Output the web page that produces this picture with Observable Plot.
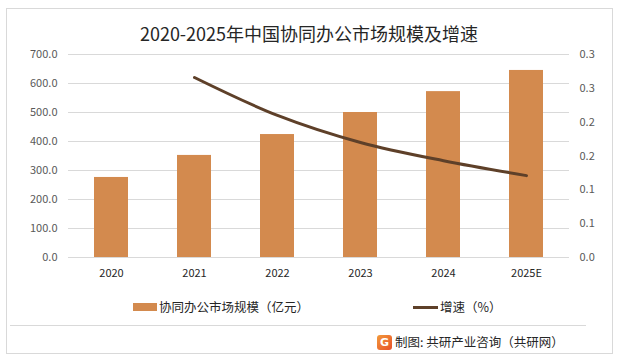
<!DOCTYPE html>
<html><head><meta charset="utf-8">
<script src="https://cdn.jsdelivr.net/npm/d3@7"></script>
<script src="https://cdn.jsdelivr.net/npm/@observablehq/plot@0.6"></script>
<style>
body{margin:0;background:#fff;font-family:"Noto Sans CJK SC","Noto Sans",sans-serif;}
#wrap{position:relative;width:618px;height:360px;overflow:hidden;background:#fff;}
#frame{position:absolute;left:6px;top:8px;width:607px;height:346px;border:1px solid #d9d9d9;box-sizing:border-box;}
#title{position:absolute;left:0;width:618px;top:20px;height:26px;line-height:26px;text-align:center;font-size:18px;color:#262626;}
#chart{position:absolute;left:0;top:40px;}
.lg{position:absolute;font-size:12.5px;color:#262626;line-height:16px;top:299px;white-space:nowrap;}
.sw{position:absolute;}
#rule{position:absolute;left:10px;width:576px;top:325px;height:1px;background:#d9d9d9;}
#src{position:absolute;left:395px;top:334px;font-size:12.5px;line-height:16px;color:#262626;white-space:nowrap;}
#logo{position:absolute;left:377px;top:335px;width:15px;height:15px;border-radius:3px;background:linear-gradient(135deg,#f29a3a,#e8502a);color:#fff;font:bold 11px/15px "DejaVu Sans",sans-serif;text-align:center;}
</style></head>
<body><div id="wrap">
<div id="frame"></div>
<div id="title">2020-2025年中国协同办公市场规模及增速</div>
<div id="chart"></div>
<div class="sw" style="left:133px;top:303px;width:24px;height:8px;background:#D38A4E"></div>
<div class="lg" style="left:159px">协同办公市场规模（亿元）</div>
<div class="sw" style="left:413px;top:306px;width:25px;height:3px;background:#5E4029"></div>
<div class="lg" style="left:440px">增速（%）</div>
<div id="rule"></div>
<div id="logo">G</div>
<div id="src">制图: 共研产业咨询（共研网）</div>
</div>
<script>
const years = ["2020","2021","2022","2023","2024","2025E"];
const marketSize = [276, 352, 424, 500, 572, 645];
const growthYears = ["2021","2022","2023","2024","2025E"];
const growth = [0.266, 0.21, 0.17, 0.143, 0.121];
const leftTicks = [0,100,200,300,400,500,600,700];
const rightTicks = [0,0.05,0.1,0.15,0.2,0.25,0.3];
const rightTickLabels = ["0.0","0.1","0.1","0.2","0.2","0.3","0.3"];

const K = 700/0.3;
const rightPos = rightTicks.map(t => t*K);
const bars = years.map((y,i)=>({year:y, v:marketSize[i]}));
const line = growthYears.map((y,i)=>({year:y, g:growth[i]}));

const chart = Plot.plot({
  width:618, height:250, marginTop:14, marginBottom:33, marginLeft:68, marginRight:49,
  x:{domain:years, paddingInner:0.59, paddingOuter:0.295},
  y:{domain:[0,700]},
  style:{fontFamily:'"Noto Sans CJK SC","Noto Sans",sans-serif', fontSize:"11px", background:"transparent", overflow:"visible"},
  marks:[
    Plot.ruleY(leftTicks,{stroke:"#d9d9d9", strokeWidth:1}),
    Plot.barY(bars,{x:"year", y:"v", fill:"#D38A4E"}),
    Plot.line(line,{x:"year", y:d=>d.g*K, stroke:"#5E4029", strokeWidth:3, curve:"catmull-rom"}),
    Plot.axisY(leftTicks,{anchor:"left", tickSize:0, tickPadding:11, tickFormat:d=>d.toFixed(1), color:"#595959", label:null}),
    Plot.axisY(rightPos,{anchor:"right", tickSize:0, tickPadding:10, tickFormat:d=>rightTickLabels[rightPos.indexOf(d)], color:"#595959", label:null}),
    Plot.axisX({tickSize:0, tickPadding:12, color:"#262626", label:null})
  ]
});
document.getElementById("chart").appendChild(chart);
</script>
</body></html>
